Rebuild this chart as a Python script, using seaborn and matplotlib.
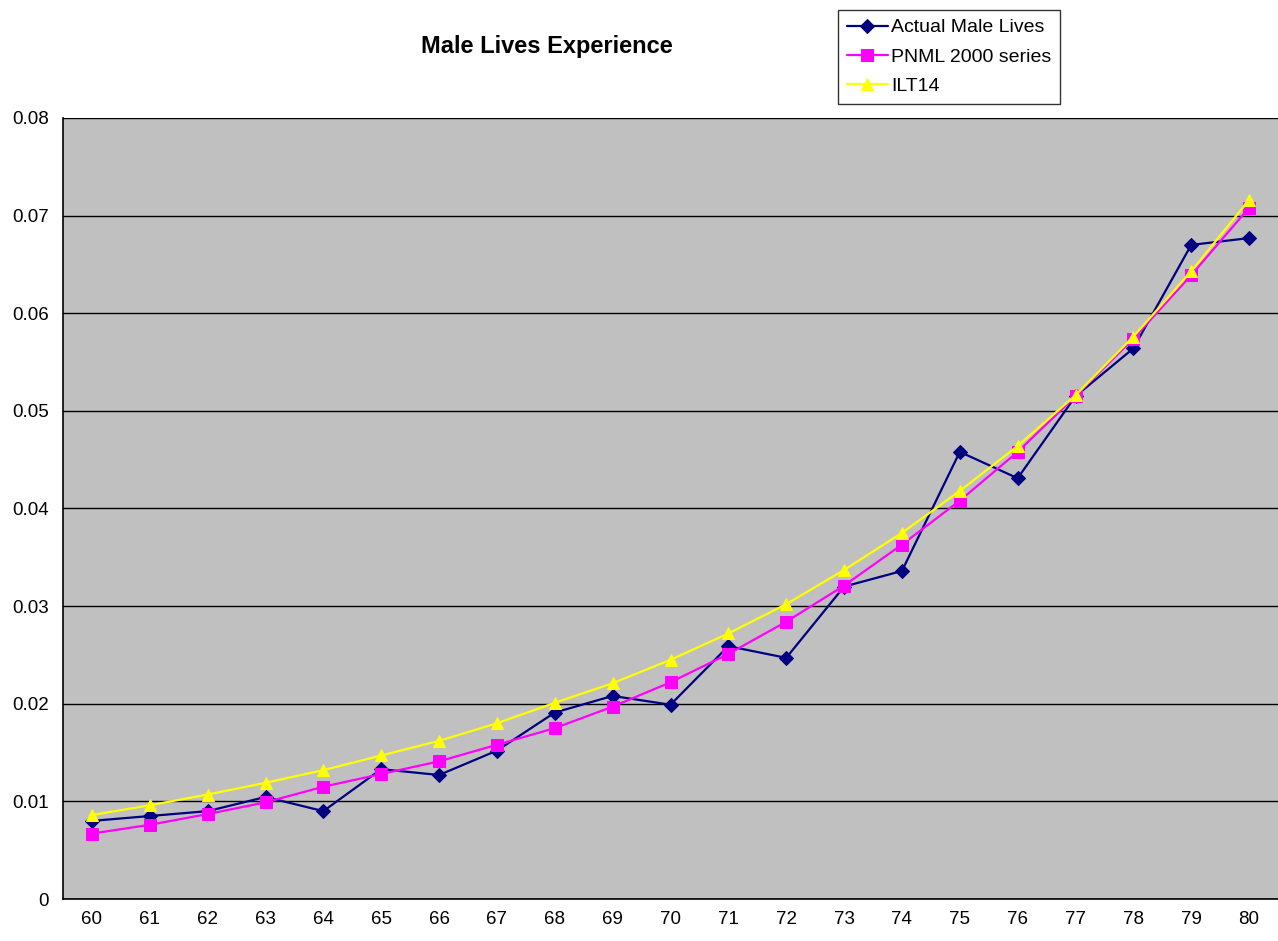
import pandas as pd
import numpy as np
import matplotlib
matplotlib.use('Agg')
import matplotlib.pyplot as plt
from matplotlib.ticker import FuncFormatter, FixedLocator
import seaborn as sns

ages = list(range(60, 81))
actual = [0.0080, 0.0085, 0.0090, 0.01045, 0.0090, 0.0133, 0.0127, 0.0152, 0.0191, 0.0208, 0.0199,
          0.0259, 0.0247, 0.0320, 0.0336, 0.0458, 0.0431, 0.0515, 0.0564, 0.0670, 0.0677]
pnml = [0.0067, 0.0076, 0.0087, 0.0099, 0.0115, 0.0128, 0.0141, 0.0158, 0.0175, 0.0197, 0.0222,
        0.0251, 0.0284, 0.0321, 0.0363, 0.0408, 0.0458, 0.0515, 0.0574, 0.0639, 0.0708]
ilt14 = [0.0086, 0.0096, 0.0107, 0.0119, 0.0132, 0.0147, 0.0162, 0.0180, 0.0201, 0.0221, 0.0245,
         0.0272, 0.0302, 0.0337, 0.0375, 0.0418, 0.0464, 0.0516, 0.0576, 0.0643, 0.0716]
series_names = ['Actual Male Lives', 'PNML 2000 series', 'ILT14']

df = pd.DataFrame({'age': ages * 3,
                   'rate': actual + pnml + ilt14,
                   'series': [n for n in series_names for _ in ages]})

sns.set_style('white')
plt.rcParams['font.family'] = ['Liberation Sans', 'DejaVu Sans']
plt.rcParams['text.color'] = 'black'
plt.rcParams['xtick.color'] = 'black'
plt.rcParams['ytick.color'] = 'black'
plt.rcParams['axes.labelcolor'] = 'black'

fig = plt.figure(figsize=(12.78, 9.41), dpi=100)
ax = fig.add_axes([63/1278, 1-899/941, 1-63/1278, (899-118)/941])
ax.set_facecolor('#C0C0C0')

palette = {'Actual Male Lives': '#000080', 'PNML 2000 series': '#FF00FF', 'ILT14': '#FFFF00'}
markers = {'Actual Male Lives': 'D', 'PNML 2000 series': 's', 'ILT14': '^'}
sizes = {'Actual Male Lives': 7, 'PNML 2000 series': 8, 'ILT14': 9}
for name in series_names:
    sub = df[df['series'] == name]
    sns.lineplot(data=sub, x='age', y='rate', color=palette[name], marker=markers[name],
                 markersize=sizes[name], markeredgecolor=palette[name], linewidth=1.6,
                 label=name, ax=ax, legend=False, zorder=3)

ax.set_xlim(59.5, 80.5)
ax.set_ylim(0, 0.08)
ax.set_xticks(ages)
ax.set_xticklabels([str(a) for a in ages])
ax.xaxis.set_minor_locator(FixedLocator(np.arange(59.5, 81, 1)))
ax.tick_params(axis='x', which='major', length=0, pad=9, labelsize=13.5, labelcolor='black')
ax.tick_params(axis='x', which='minor', length=6, direction='out', color='black', width=1)
ax.set_yticks(np.arange(0, 0.081, 0.01))
ax.yaxis.set_major_formatter(FuncFormatter(lambda v, p: '%g' % round(v, 3)))
ax.tick_params(axis='y', length=6, direction='out', color='black', width=1, labelsize=13.5,
               pad=4, labelcolor='black')
ax.grid(axis='y', color='black', linewidth=1)
ax.set_axisbelow(True)
for s in ['top', 'right']:
    ax.spines[s].set_visible(False)
for s in ['left', 'bottom']:
    ax.spines[s].set_color('black')
    ax.spines[s].set_linewidth(1.2)
ax.set_xlabel('')
ax.set_ylabel('')

fig.text(547/1278, 1-47/941, 'Male Lives Experience', ha='center', va='center',
         fontsize=17, fontweight='bold', color='black')

handles, labels = ax.get_legend_handles_labels()
leg = fig.legend(handles, labels, loc='upper left', bbox_to_anchor=(838/1278, 1-10/941),
                 fontsize=14, frameon=True, fancybox=False, edgecolor='black',
                 handlelength=2.1, handletextpad=0.2, borderpad=0.45, labelspacing=0.6,
                 borderaxespad=0)
leg.get_frame().set_linewidth(1)
for t in leg.get_texts():
    t.set_color('black')

fig.savefig('out.png', dpi=100, facecolor='white')
